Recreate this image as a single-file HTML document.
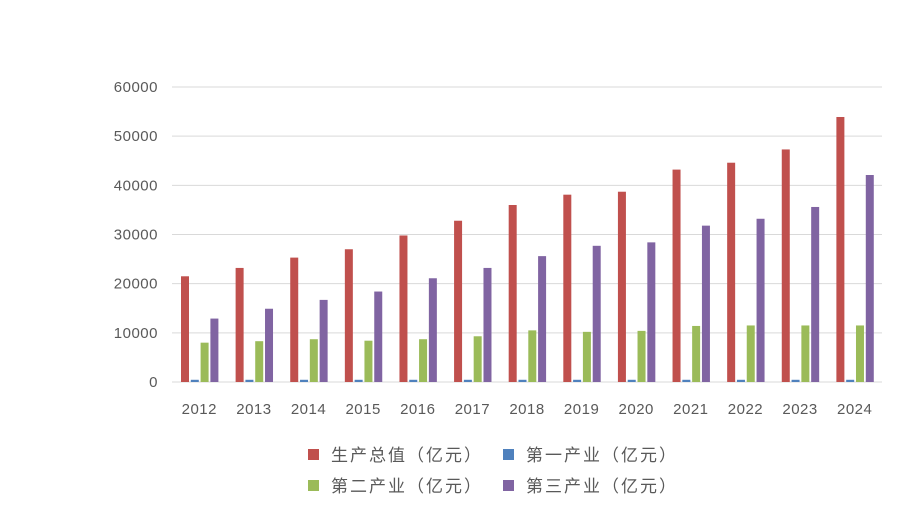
<!DOCTYPE html>
<html><head><meta charset="utf-8"><style>
body{margin:0;background:#fff;}
svg text{font-family:"Liberation Sans","Noto Sans CJK SC",sans-serif;fill:#595959;}
</style></head><body>
<svg id="chart" width="903" height="521"></svg>
<script>
const categories=["2012","2013","2014","2015","2016","2017","2018","2019","2020","2021","2022","2023","2024"];
const gdpValues=[21500,23200,25300,27000,29800,32800,36000,38100,38700,43200,44600,47300,53900];
const primaryValues=[450,450,450,450,450,450,450,450,450,450,450,450,450];
const secondaryValues=[8000,8300,8700,8400,8700,9300,10500,10200,10400,11400,11500,11500,11500];
const tertiaryValues=[12900,14900,16700,18400,21100,23200,25600,27700,28400,31800,33200,35600,42100];
const yTicks=[0,10000,20000,30000,40000,50000,60000];
const seriesNames=["生产总值（亿元）","第一产业（亿元）","第二产业（亿元）","第三产业（亿元）"];
const NS="http://www.w3.org/2000/svg";
const svg=document.getElementById('chart');
const x0=172,x1=882,y0=382,yTop=87,yMax=60000;
const cw=(x1-x0)/categories.length;
function yScale(v){return y0-(v/yMax)*(y0-yTop);}
function xCat(i){return x0+i*cw;}
function mk(t,a){const e=document.createElementNS(NS,t);for(const k in a)e.setAttribute(k,a[k]);svg.appendChild(e);return e;}
yTicks.forEach(v=>{
 const l=mk('line',{x1:x0,x2:x1,y1:yScale(v),y2:yScale(v),stroke:'#d9d9d9','stroke-width':1});
 
 
 const t=mk('text',{x:158,y:yScale(v)+5,'text-anchor':'end','font-size':15,'letter-spacing':0.5});
 t.textContent=v;
 
 
});
const series=[gdpValues,primaryValues,secondaryValues,tertiaryValues];
const colors=['#c0504d','#4f81bd','#9bbb59','#8064a2'];
const names=['bar-gdp','bar-primary','bar-secondary','bar-tertiary'];
categories.forEach((c,i)=>{
 series.forEach((s,j)=>{
  const bx=xCat(i)+9+j*9.8, by=yScale(s[i]);
  const r=mk('rect',{x:bx,y:by,width:8,height:y0-by,fill:colors[j]});
  
  
 });
 const t=mk('text',{x:xCat(i)+cw/2,y:414,'text-anchor':'middle','font-size':15,'letter-spacing':0.5});
 t.textContent=c;
 
 
});
const lp=[[308,449],[503,449],[308,480],[503,480]];
seriesNames.forEach((n,j)=>{
 const r=mk('rect',{x:lp[j][0],y:lp[j][1],width:11,height:11,fill:colors[j]});
 
 
 const t=mk('text',{x:lp[j][0]+23,y:lp[j][1]+12,'font-size':17,'letter-spacing':2});
 t.textContent=n;
 
 
});
</script>
</body></html>
